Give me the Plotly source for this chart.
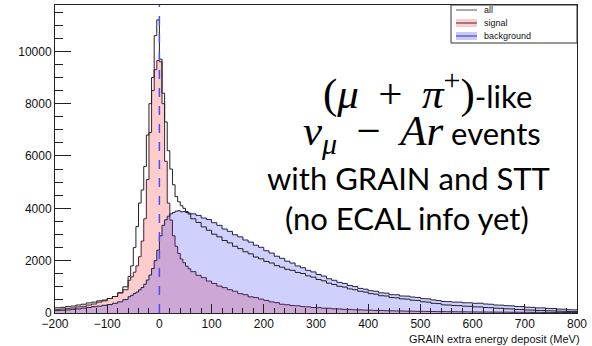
import numpy as np
import plotly.graph_objects as go

# ---------------- data ----------------
bin_edges = np.concatenate([np.arange(-200, -60, 10), np.arange(-60, 60, 5), np.arange(60, 801, 10)])

signal = [140, 155, 180, 195, 235, 255, 305, 345, 415, 465, 555, 630, 770, 890,
          1250, 1380, 1560, 1800, 2150, 2750, 3600, 5100, 6900, 8500, 9300, 9650,
          9600, 8000, 5800, 4200, 3550, 2950, 2550, 2280, 2060, 1920, 1790, 1690,
          1580, 1440, 1350, 1220, 1130, 1030, 970, 890, 830, 740,
          700, 620, 590, 530, 480, 425, 395, 335, 315, 285,
          275, 245, 235, 210, 205, 185, 180, 160, 155, 140,
          138, 122, 120, 110, 108, 98, 97, 88, 86, 78,
          78, 70, 70, 63, 64, 58, 57, 52, 53, 48,
          49, 45, 45, 41, 41, 37, 38, 35, 35, 32,
          33, 29, 30, 27, 28, 25, 26, 23, 24, 21,
          22, 19, 20, 18]

background = [90, 105, 118, 142, 158, 188, 212, 243, 262, 295, 322, 372, 428, 512,
              620, 675, 745, 800, 885, 975, 1100, 1260, 1450, 1700, 2000, 2400,
              2950, 3350, 3560, 3700, 3790, 3840, 3890, 3910, 3870, 3880, 3840, 3820,
              3790, 3730, 3630, 3570, 3450, 3350, 3210, 3120, 2990, 2910,
              2790, 2710, 2590, 2510, 2380, 2290, 2170, 2090, 1980, 1910,
              1800, 1730, 1630, 1570, 1470, 1410, 1310, 1250, 1170, 1130,
              1050, 1010, 940, 910, 850, 830, 770, 760, 700, 695,
              650, 645, 610, 595, 550, 540, 500, 475, 440, 435,
              415, 415, 390, 390, 370, 375, 345, 335, 305, 300,
              280, 275, 250, 245, 220, 215, 195, 195, 175, 170,
              150, 145, 125, 120]

all_events = [200, 215, 245, 265, 305, 335, 385, 415, 465, 495, 555, 630, 770, 1000,
              1400, 1800, 2500, 3300, 4200, 4700, 5600, 6800, 8000, 9000, 10600, 11200,
              9700, 8400, 7300, 6200, 5500, 4900, 4450, 4250, 4100, 4000, 3880, 3780,
              3600, 3460, 3290, 3160, 3010, 2910, 2770, 2680, 2550, 2460,
              2340, 2260, 2140, 2070, 1970, 1910, 1810, 1750, 1670, 1630,
              1550, 1510, 1420, 1370, 1280, 1230, 1140, 1090, 1020, 990,
              920, 890, 830, 800, 740, 720, 660, 650, 590, 580,
              540, 530, 490, 480, 430, 415, 370, 360, 310, 305,
              285, 280, 260, 255, 235, 232, 210, 205, 185, 180,
              160, 155, 135, 130, 115, 110, 95, 95, 85, 80,
              70, 65, 55, 52]

legend_labels = ["all", "signal", "background"]
x_title = "GRAIN extra energy deposit (MeV)"

# ---------------- figure ----------------
def step(vals):
    return list(bin_edges), list(vals) + [vals[-1]]

fig = go.Figure()

xs, ys = step(signal)
fig.add_trace(go.Scatter(x=xs, y=ys, mode="lines", line=dict(shape="hv", color="#4a2030", width=1),
                         fill="tozeroy", fillcolor="#fdcccc", showlegend=False))
xb, yb = step(background)
fig.add_trace(go.Scatter(x=xb, y=yb, mode="lines", line=dict(shape="hv", color="#20204a", width=1),
                         fill="tozeroy", fillcolor="rgba(40,40,240,0.22)", showlegend=False))
xa, ya = step(all_events)
fig.add_trace(go.Scatter(x=xa, y=ya, mode="lines", line=dict(shape="hv", color="#222222", width=1),
                         showlegend=False))

axis_font = dict(family="Liberation Sans, Arial", size=12, color="#111")

fig.update_xaxes(range=[-200, 800], dtick=100, tick0=0, ticks="inside", ticklen=9, tickcolor="#222",
                 showline=True, linecolor="#222", linewidth=1, mirror=True, showgrid=False, zeroline=False,
                 tickfont=axis_font,
                 minor=dict(dtick=20, ticks="inside", ticklen=5, tickcolor="#222", showgrid=False))
fig.update_yaxes(range=[0, 11770], dtick=2000, tick0=0, ticks="inside", ticklen=16, tickcolor="#222",
                 tickformat="d",
                 showline=True, linecolor="#222", linewidth=1, mirror=True, showgrid=False, zeroline=False,
                 tickfont=dict(family="Liberation Sans, Arial", size=12, color="#111"),
                 minor=dict(dtick=500, ticks="inside", ticklen=8, tickcolor="#222", showgrid=False))

# dashed reference line at zero
fig.add_shape(type="line", x0=0, x1=0, y0=0, y1=1, xref="x", yref="paper",
              line=dict(color="#4b4bff", width=1.5, dash="dash"))

# x title
fig.add_annotation(text=x_title, x=1.01, y=-0.083, xref="paper", yref="paper", xanchor="right",
                   yanchor="middle", showarrow=False,
                   font=dict(family="Liberation Sans, Arial", size=11, color="#111"))

# legend box (manual)
def px_x(p):
    return (p - 55) / 522
def px_y(p):
    return (313 - p) / 308

fig.add_shape(type="rect", xref="paper", yref="paper", x0=px_x(451), x1=1.0, y0=px_y(43), y1=1.0,
              line=dict(color="#333", width=1), fillcolor="white")
row_y = [10, 23, 36]
fig.add_shape(type="line", xref="paper", yref="paper", x0=px_x(456), x1=px_x(477),
              y0=px_y(row_y[0]), y1=px_y(row_y[0]), line=dict(color="#555", width=1))
fig.add_shape(type="rect", xref="paper", yref="paper", x0=px_x(456), x1=px_x(477),
              y0=px_y(row_y[1] + 4), y1=px_y(row_y[1] - 4), line=dict(width=0), fillcolor="#fdcccc")
fig.add_shape(type="line", xref="paper", yref="paper", x0=px_x(456), x1=px_x(477),
              y0=px_y(row_y[1]), y1=px_y(row_y[1]), line=dict(color="#4a2030", width=1))
fig.add_shape(type="rect", xref="paper", yref="paper", x0=px_x(456), x1=px_x(477),
              y0=px_y(row_y[2] + 4), y1=px_y(row_y[2] - 4), line=dict(width=0), fillcolor="#cacaf8")
fig.add_shape(type="line", xref="paper", yref="paper", x0=px_x(456), x1=px_x(477),
              y0=px_y(row_y[2]), y1=px_y(row_y[2]), line=dict(color="#3030a0", width=1))
for lab, ry in zip(legend_labels, row_y):
    fig.add_annotation(text=lab, x=px_x(482), y=px_y(ry), xref="paper", yref="paper", xanchor="left",
                       yanchor="middle", showarrow=False,
                       font=dict(family="Liberation Sans, Arial", size=9, color="#111"))

# big overlay text
serif = "font-family:'Liberation Serif','DejaVu Serif';font-size:43px"
sp = "\u00a0\u2009"
lines = [
    (f"<span style=\"{serif}\">(<i>μ</i>{sp}+{sp}<i>π</i><sup>+</sup>)</span>-like", 427, 90),
    (f"<span style=\"{serif}\"><i>ν</i><sub><i>μ</i></sub>{sp}−{sp}<i>Ar</i></span> events", 422, 134),
    ("with GRAIN and STT", 408, 178),
    ("(no ECAL info yet)", 407, 218),
]
for txt, cx, cy in lines:
    fig.add_annotation(text=txt, x=px_x(cx), y=px_y(cy), xref="paper", yref="paper",
                       xanchor="center", yanchor="middle", showarrow=False,
                       font=dict(family="Lato, Open Sans", size=31, color="black"))

fig.update_layout(width=592, height=346, margin=dict(l=55, r=15, t=5, b=33),
                  plot_bgcolor="white", paper_bgcolor="white")

fig.write_html("out.html")
